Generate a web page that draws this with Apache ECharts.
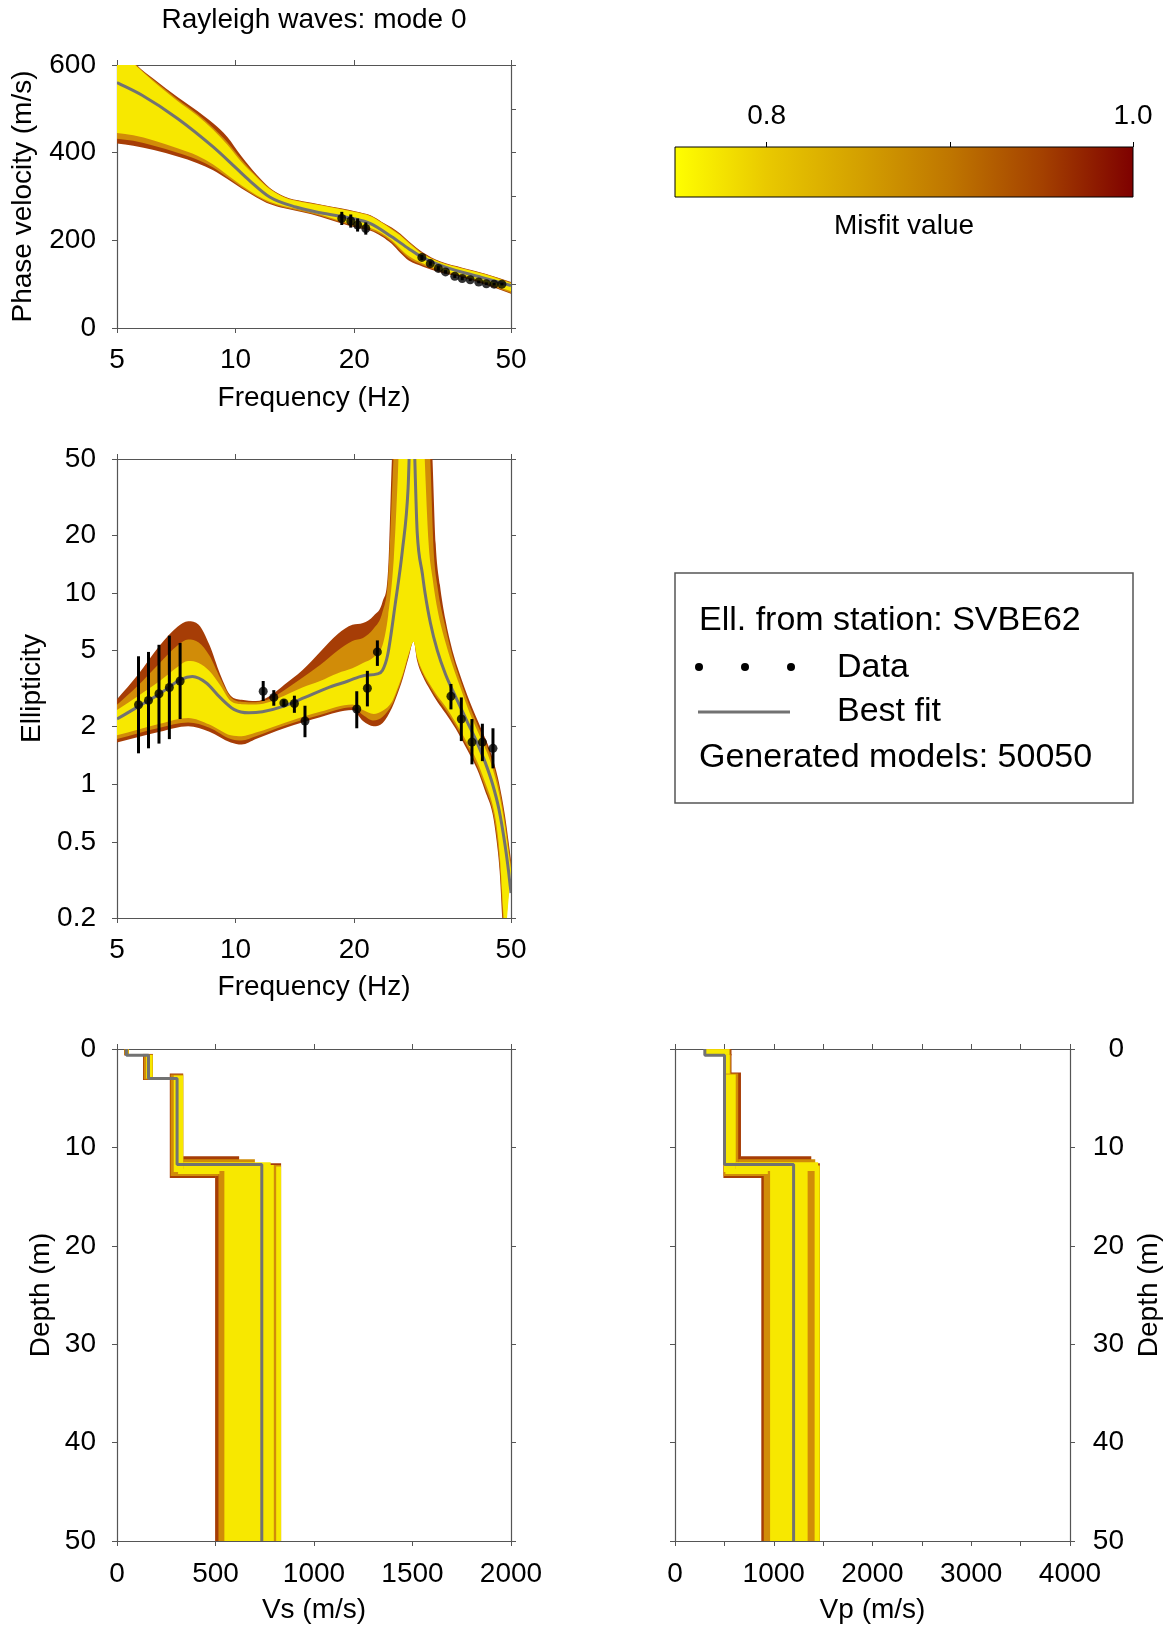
<!DOCTYPE html>
<html>
<head>
<meta charset="utf-8">
<title>Rayleigh waves: mode 0</title>
<script src="https://cdn.jsdelivr.net/npm/echarts@6/dist/echarts.min.js"></script>
<style>
  html, body { margin: 0; padding: 0; background: #ffffff; }
  #chart { width: 1169px; height: 1629px; }
</style>
</head>
<body>
<div id="chart"></div>
<script>
// ---------- styling ----------
const FONT = "'Liberation Sans', Arial, Helvetica, sans-serif";
const FRAME = '#555555';
const BEST_FIT_COLOR = '#727272';
const TEXT = '#000000';

// ---------- misfit colour scale ----------
const misfitRange = [0.75, 1.0];
const misfitTicks = [0.8, 0.9, 1.0];
const misfitLabels = [0.8, 1.0];
const misfitStops = [[0, '#ffff00'], [0.2, '#e9c900'], [0.4, '#d4a100'], [0.6, '#bf7600'], [0.8, '#a44100'], [1, '#7e0000']];
// colours of the misfit classes drawn as envelopes, worst first
const classColors = ['#a63d06', '#d18c08', '#f7e800'];

// ---------- phase-velocity dispersion ----------
const freqTicks = [5, 10, 20, 50];
const dispFreq = [5, 5.5, 6.2, 7.12, 8, 8.77, 9.53, 10.36, 11.3, 12.2, 13.3, 14.8, 16.4, 18.5, 20.2, 22, 23.5, 24.9, 26.2, 27.5, 29.9, 33, 37.8, 43, 50];
const dispOuterUpper = [660, 608, 568, 527, 495, 467, 436, 391, 350, 320, 300, 289, 282, 273, 266, 257, 242, 229, 215, 198, 172, 152, 137, 124, 105];
const dispMidUpper   = [648, 606, 565, 522, 488, 457, 424, 384, 347, 319, 299, 288, 281, 272, 265, 256, 241, 227, 213, 196, 170, 151, 136, 123, 104];
const dispInnerUpper = [640, 604, 562, 518, 484, 452, 418, 378, 344, 317, 298, 287, 280, 271, 264, 255, 240, 225, 211, 194, 168, 150, 135, 122, 102];
const dispOuterLower = [421, 416, 406, 391, 376, 360, 340, 318, 298, 283, 273, 264, 254, 239, 229, 222, 209, 192, 171, 154, 140, 127, 115, 99, 78];
const dispMidLower   = [432, 427, 416, 400, 384, 366, 344, 321, 300, 285, 275, 266, 256, 241, 231, 224, 212, 196, 176, 159, 143, 129, 117, 101, 80];
const dispInnerLower = [445, 440, 428, 410, 393, 373, 349, 325, 303, 288, 278, 269, 259, 244, 235, 228, 216, 200, 181, 164, 147, 133, 120, 104, 84];
const dispBest = [[5, 560], [5.79, 531], [7.12, 478], [8.77, 413], [10.05, 364], [10.83, 337], [12.2, 299], [14.2, 276], [16.4, 263], [19.8, 250], [22, 238], [24.9, 208], [27.5, 181], [29.7, 162], [34.1, 139], [41.9, 116], [50, 97]];
const dispDataFreq = [18.6, 19.6, 20.4, 21.4, 29.7, 31.2, 32.7, 34.1, 36.0, 37.6, 39.4, 41.4, 43.3, 45.3, 47.4];
const dispDataVel  = [250, 244, 235, 227, 161, 147, 136, 128, 118, 113, 110, 105, 101, 100, 100];
const dispDataLow  = [235, 229, 220, 213, 155, 142, 131, 124, 114, 109, 107, 102, 98, 97, 97];
const dispDataHigh = [265, 259, 250, 241, 167, 152, 141, 132, 122, 117, 113, 108, 104, 103, 103];

// ---------- ellipticity ----------
const ellTicks = [0.2, 0.5, 1, 2, 5, 10, 20, 50];
const ellOuterUpper = [[5, 2.78], [5.67, 3.77], [6.42, 5.31], [7.12, 6.65], [7.58, 7.11], [8.06, 6.8], [8.58, 5.35], [9.13, 3.77], [9.72, 2.9], [10.36, 2.76], [11.26, 2.72], [12.25, 2.9], [13.29, 3.31], [14.77, 3.94], [16.38, 4.91], [18.17, 6.1], [19.79, 6.8], [21.05, 6.95], [22.41, 7.59], [23.62, 9.03], [24.39, 13.4], [24.93, 50], [25.3, 90], [31.2, 90], [31.6, 50], [32.2, 18], [33.0, 11], [34.1, 7.2], [35.5, 5.0], [37.0, 3.8], [39.3, 2.7], [42.0, 1.95], [44.5, 1.45], [46.6, 1.02], [48.3, 0.68], [49.3, 0.5], [50, 0.4]];
const ellMidUpper = [[5, 2.6], [5.67, 3.3], [6.42, 4.3], [7.12, 5.3], [7.58, 5.7], [8.06, 5.5], [8.58, 4.7], [9.13, 3.6], [9.72, 2.85], [10.36, 2.7], [11.26, 2.68], [12.25, 2.8], [13.29, 3.1], [14.77, 3.6], [16.38, 4.2], [18.17, 5.0], [19.79, 5.6], [21.05, 5.8], [22.41, 6.5], [23.62, 8.0], [24.39, 12], [25.1, 45], [25.5, 90], [30.8, 90], [31.2, 50], [31.8, 17], [32.6, 10.5], [34.1, 6.6], [35.5, 4.7], [37.0, 3.6], [39.3, 2.55], [42.0, 1.85], [44.5, 1.38], [46.6, 0.97], [48.3, 0.64], [49.3, 0.47], [50, 0.38]];
const ellInnerUpper = [[5, 2.44], [5.67, 2.9], [6.42, 3.46], [7.12, 4.1], [7.58, 4.4], [8.06, 4.3], [8.58, 3.9], [9.13, 3.3], [9.72, 2.72], [10.36, 2.62], [11.26, 2.61], [12.25, 2.7], [13.29, 2.9], [14.77, 3.2], [16.38, 3.46], [18.17, 3.8], [19.79, 4.03], [21.05, 4.3], [22.41, 4.6], [23.62, 5.35], [24.39, 7.6], [25.2, 15], [25.8, 40], [26.2, 90], [29.9, 90], [30.2, 50], [30.9, 18], [31.6, 12], [32.6, 8.0], [34.1, 5.5], [35.5, 4.2], [37.0, 3.3], [39.3, 2.35], [42.0, 1.72], [44.5, 1.28], [46.6, 0.9], [48.3, 0.6], [49.3, 0.44], [50, 0.36]];
const ellOuterLower = [[5, 1.65], [6.42, 1.88], [7.58, 2.01], [8.58, 1.88], [9.72, 1.65], [10.36, 1.61], [11.26, 1.72], [13.29, 1.96], [16.38, 2.24], [19.79, 2.44], [21.05, 2.14], [22.41, 2.01], [23.62, 2.09], [24.93, 2.5], [25.5, 2.8], [26.6, 3.6], [27.5, 4.6], [28.3, 5.6], [28.9, 4.4], [29.8, 3.7], [31.2, 3.1], [32.5, 2.7], [34.1, 2.35], [36.2, 1.95], [38.8, 1.5], [41.0, 1.2], [43.0, 0.92], [44.9, 0.7], [46.0, 0.5], [46.8, 0.35], [47.5, 0.2], [47.9, 0.15]];
const ellMidLower = [[5, 1.72], [6.42, 1.97], [7.58, 2.1], [8.58, 1.97], [9.72, 1.72], [10.36, 1.69], [11.26, 1.78], [13.29, 2.02], [16.38, 2.3], [19.79, 2.52], [21.05, 2.3], [22.41, 2.15], [23.62, 2.25], [24.93, 2.6], [25.5, 2.9], [26.6, 3.7], [27.5, 4.7], [28.3, 5.6], [28.9, 4.5], [29.8, 3.8], [31.2, 3.2], [32.5, 2.8], [34.1, 2.45], [36.2, 2.02], [38.8, 1.56], [41.0, 1.25], [43.0, 0.96], [44.9, 0.73], [46.0, 0.54], [46.8, 0.38], [47.7, 0.2], [48.1, 0.15]];
const ellInnerLower = [[5, 1.8], [6.42, 2.07], [7.58, 2.22], [8.58, 2.05], [9.72, 1.8], [10.36, 1.78], [11.26, 1.86], [13.29, 2.09], [16.38, 2.39], [19.79, 2.61], [21.05, 2.44], [22.41, 2.33], [23.62, 2.42], [24.93, 2.7], [25.5, 3.0], [26.6, 3.8], [27.5, 4.8], [28.3, 5.55], [28.9, 4.6], [29.8, 3.9], [31.2, 3.3], [32.5, 2.9], [34.1, 2.55], [36.2, 2.1], [38.8, 1.63], [41.0, 1.32], [43.0, 1.02], [44.9, 0.78], [46.0, 0.6], [46.8, 0.43], [47.9, 0.2], [48.3, 0.15]];
const ellBest = [[5, 2.19], [5.67, 2.55], [6.42, 2.97], [7.27, 3.53], [7.77, 3.65], [8.43, 3.38], [9.13, 2.84], [9.9, 2.46], [10.8, 2.36], [11.7, 2.39], [13.2, 2.55], [15.0, 2.84], [17.0, 3.17], [19.3, 3.46], [21.1, 3.69], [22.9, 3.77], [23.6, 3.94], [24.3, 4.7], [25.4, 8.65], [26.5, 16.6], [27.4, 35], [28.0, 120], [28.9, 20.7], [29.8, 12.5], [30.25, 10], [31.2, 7.0], [32.5, 5.0], [34.1, 3.75], [36.2, 2.85], [38.8, 2.1], [41.0, 1.65], [43.0, 1.3], [44.9, 1.0], [46.6, 0.74], [48.3, 0.48], [49.3, 0.35], [50, 0.27]];
const ellDataFreq = [5.67, 6.01, 6.39, 6.79, 7.23, 11.75, 12.5, 13.26, 14.1, 15.0, 20.3, 21.6, 22.9, 35.2, 37.4, 39.8, 42.3, 45.0];
const ellDataVal  = [2.60, 2.74, 2.97, 3.20, 3.46, 3.06, 2.84, 2.66, 2.64, 2.14, 2.47, 3.17, 4.91, 2.88, 2.19, 1.66, 1.66, 1.54];
const ellDataLow  = [1.45, 1.54, 1.63, 1.72, 2.19, 2.72, 2.57, 2.55, 2.36, 1.76, 1.96, 2.55, 4.15, 2.46, 1.68, 1.27, 1.32, 1.21];
const ellDataHigh = [4.66, 4.91, 5.35, 5.97, 5.47, 3.46, 3.10, 2.77, 2.90, 2.57, 3.06, 3.91, 5.64, 3.34, 2.84, 2.19, 2.07, 1.96];

// ---------- velocity profiles (blocks: [vMin, vMax, depthTop, depthBottom]) ----------
const profileBottom = 50;
const vsOuterBlocks = [[36, 60, 0, 0.65], [132, 182, 0.5, 3.15], [268, 336, 2.5, 13.1], [336, 620, 10.9, 12.0], [290, 500, 12.0, 13.1], [498, 833, 11.6, 50]];
const vsMidBlocks   = [[38, 60, 0, 0.62], [136, 181, 0.55, 3.1], [272, 336, 2.6, 12.9], [336, 700, 11.2, 12.3], [300, 515, 12.1, 12.9], [515, 832, 11.8, 50]];
const vsInnerBlocks = [[40, 58, 0, 0.6], [148, 181, 0.6, 3.0], [288, 336, 2.7, 12.5], [336, 780, 11.5, 12.4], [310, 520, 12.2, 12.7], [545, 796, 11.8, 50], [808, 833, 11.95, 50]];
const vsBestTop = [0, 0.63, 3.0, 11.75];
const vsBestVel = [48, 160, 305, 735];

const vpOuterBlocks = [[300, 572, 0, 0.65], [490, 572, 0.5, 2.6], [490, 668, 2.4, 13.1], [668, 1380, 10.9, 12.0], [500, 900, 12.0, 13.1], [874, 1467, 11.6, 50]];
const vpMidBlocks   = [[305, 560, 0, 0.62], [492, 565, 0.55, 2.6], [492, 640, 2.5, 12.9], [640, 1420, 11.2, 12.3], [505, 920, 12.1, 12.9], [899, 1467, 11.8, 50]];
const vpInnerBlocks = [[310, 550, 0.02, 0.6], [495, 555, 0.6, 2.5], [495, 615, 2.6, 12.5], [615, 1450, 11.5, 12.4], [510, 940, 12.2, 12.7], [963, 1343, 11.8, 50], [1414, 1465, 11.9, 50]];
const vpBestTop = [0, 0.63, 11.75];
const vpBestVel = [302, 501, 1201];

// ---------- helpers ----------
function zip(xs, ys) { return xs.map((x, i) => [x, ys[i]]); }

// step polyline of a layered model: vertical inside layers, horizontal at interfaces
function stepProfile(tops, vels, bottom) {
  const pts = [];
  for (let i = 0; i < vels.length; i++) {
    pts.push([vels[i], tops[i]]);
    pts.push([vels[i], i + 1 < tops.length ? tops[i + 1] : bottom]);
  }
  return pts;
}

// monotone cubic (x-monotone) bezier segments through pixel points
function monotoneSegments(pts) {
  const n = pts.length, segs = [];
  if (n < 2) return segs;
  const dx = [], s = [];
  for (let i = 0; i < n - 1; i++) {
    dx[i] = pts[i + 1][0] - pts[i][0];
    s[i] = dx[i] !== 0 ? (pts[i + 1][1] - pts[i][1]) / dx[i] : 0;
  }
  const m = new Array(n);
  m[0] = s[0]; m[n - 1] = s[n - 2];
  for (let i = 1; i < n - 1; i++) m[i] = s[i - 1] * s[i] <= 0 ? 0 : (s[i - 1] + s[i]) / 2;
  for (let i = 0; i < n - 1; i++) {
    if (s[i] === 0) { m[i] = 0; m[i + 1] = 0; continue; }
    const a = m[i] / s[i], b = m[i + 1] / s[i], q = a * a + b * b;
    if (q > 9) { const t = 3 / Math.sqrt(q); m[i] = t * a * s[i]; m[i + 1] = t * b * s[i]; }
  }
  for (let i = 0; i < n - 1; i++) {
    const h = dx[i] / 3;
    segs.push([pts[i], [pts[i][0] + h, pts[i][1] + m[i] * h], [pts[i + 1][0] - h, pts[i + 1][1] - m[i + 1] * h], pts[i + 1]]);
  }
  return segs;
}

function segmentsToPath(segs, reverse) {
  let d = '';
  if (!reverse) {
    segs.forEach(g => { d += 'C' + g[1][0] + ',' + g[1][1] + ' ' + g[2][0] + ',' + g[2][1] + ' ' + g[3][0] + ',' + g[3][1]; });
  } else {
    for (let i = segs.length - 1; i >= 0; i--) {
      const g = segs[i];
      d += 'C' + g[2][0] + ',' + g[2][1] + ' ' + g[1][0] + ',' + g[1][1] + ' ' + g[0][0] + ',' + g[0][1];
    }
  }
  return d;
}

// closed path: upper edge left→right, lower edge right→left
function envelopePath(up, lo) {
  const last = lo[lo.length - 1];
  return 'M' + up[0][0] + ',' + up[0][1] + segmentsToPath(monotoneSegments(up), false) +
    'L' + last[0] + ',' + last[1] + segmentsToPath(monotoneSegments(lo), true) + 'Z';
}

function clipRect(params) {
  const cs = params.coordSys;
  return { type: 'rect', shape: { x: cs.x, y: cs.y, width: cs.width, height: cs.height } };
}

function envelopeSeries(xi, yi, anchor, bands) {
  return {
    type: 'custom', xAxisIndex: xi, yAxisIndex: yi, clip: true, silent: true,
    data: bands.map((b, i) => [anchor[0], anchor[1], i]),
    encode: { x: 0, y: 1 },
    renderItem(params, api) {
      const band = bands[api.value(2)];
      const up = band.upper.map(p => api.coord(p));
      const lo = band.lower.map(p => api.coord(p));
      return {
        type: 'path',
        shape: { pathData: envelopePath(up, lo) },
        style: { fill: band.color },
        clipPath: clipRect(params)
      };
    }
  };
}

// smooth best-fit curve through its sample points
function curveSeries(xi, yi, anchor, pts) {
  return {
    type: 'custom', xAxisIndex: xi, yAxisIndex: yi, clip: true, silent: true,
    data: [anchor], encode: { x: 0, y: 1 },
    renderItem(params, api) {
      const px = pts.map(p => api.coord(p));
      return {
        type: 'path',
        shape: { pathData: 'M' + px[0][0] + ',' + px[0][1] + segmentsToPath(monotoneSegments(px), false) },
        style: { fill: null, stroke: BEST_FIT_COLOR, lineWidth: 3 },
        clipPath: clipRect(params)
      };
    }
  };
}

function blockSeries(xi, yi, blocks, color) {
  return {
    type: 'custom', xAxisIndex: xi, yAxisIndex: yi, clip: true, silent: true,
    data: blocks,
    encode: { x: [0, 1], y: [2, 3] },
    renderItem(params, api) {
      const a = api.coord([api.value(0), api.value(2)]);
      const b = api.coord([api.value(1), api.value(3)]);
      return {
        type: 'rect',
        shape: { x: Math.min(a[0], b[0]), y: Math.min(a[1], b[1]), width: Math.abs(b[0] - a[0]), height: Math.abs(b[1] - a[1]) },
        style: { fill: color },
        clipPath: clipRect(params)
      };
    }
  };
}

function errorBarSeries(xi, yi, freq, low, high) {
  return {
    type: 'custom', xAxisIndex: xi, yAxisIndex: yi, silent: true,
    data: freq.map((f, i) => [f, low[i], high[i]]),
    encode: { x: 0, y: [1, 2] },
    renderItem(params, api) {
      const a = api.coord([api.value(0), api.value(1)]);
      const b = api.coord([api.value(0), api.value(2)]);
      return { type: 'line', shape: { x1: a[0], y1: a[1], x2: b[0], y2: b[1] }, style: { stroke: '#000', lineWidth: 3 } };
    }
  };
}

function stepLine(xi, yi, data) {
  return {
    type: 'line', xAxisIndex: xi, yAxisIndex: yi, data: data, showSymbol: false, symbol: 'none',
    clip: true, silent: true, lineStyle: { color: BEST_FIT_COLOR, width: 3 }
  };
}

function dataDots(xi, yi, freq, vals) {
  return {
    type: 'scatter', xAxisIndex: xi, yAxisIndex: yi, data: zip(freq, vals),
    symbol: 'circle', symbolSize: 9, itemStyle: { color: '#000' }, silent: true
  };
}

// ---------- assembled envelopes ----------
const dispBands = [
  { color: classColors[0], upper: zip(dispFreq, dispOuterUpper), lower: zip(dispFreq, dispOuterLower) },
  { color: classColors[1], upper: zip(dispFreq, dispMidUpper),   lower: zip(dispFreq, dispMidLower) },
  { color: classColors[2], upper: zip(dispFreq, dispInnerUpper), lower: zip(dispFreq, dispInnerLower) }
];
const ellBands = [
  { color: classColors[0], upper: ellOuterUpper, lower: ellOuterLower },
  { color: classColors[1], upper: ellMidUpper,   lower: ellMidLower },
  { color: classColors[2], upper: ellInnerUpper, lower: ellInnerLower }
];

// ---------- axes ----------
const axisLine = { show: true, onZero: false, lineStyle: { color: FRAME, width: 1.2 } };
const tickStyle = { show: true, inside: false, length: 5, lineStyle: { color: FRAME, width: 1 } };
function ticks(extra) { return Object.assign({}, tickStyle, extra || {}); }
function labels(extra) {
  return Object.assign({ fontFamily: FONT, fontSize: 28, color: TEXT, showMinLabel: true, showMaxLabel: true,
    formatter: v => String(v) }, extra || {});
}
const nameStyle = { fontFamily: FONT, fontSize: 28, color: TEXT };
const off = { show: false };

function nameOpts(name, gap) {
  return { name: name, nameLocation: 'middle', nameGap: gap, nameTextStyle: nameStyle, nameMoveOverlap: false };
}

const xAxes = [
  // 0/1 dispersion
  Object.assign({ gridIndex: 0, type: 'log', logBase: 10, min: 5, max: 50, position: 'bottom', axisLine: axisLine,
    axisTick: ticks({ customValues: freqTicks }), axisLabel: labels({ customValues: freqTicks, margin: 18 }), splitLine: off },
    nameOpts('Frequency (Hz)', 56)),
  { gridIndex: 0, type: 'log', logBase: 10, min: 5, max: 50, position: 'top', axisLine: axisLine,
    axisTick: ticks({ customValues: freqTicks }), axisLabel: off, splitLine: off },
  // 2/3 ellipticity
  Object.assign({ gridIndex: 1, type: 'log', logBase: 10, min: 5, max: 50, position: 'bottom', axisLine: axisLine,
    axisTick: ticks({ customValues: freqTicks }), axisLabel: labels({ customValues: freqTicks, margin: 18 }), splitLine: off },
    nameOpts('Frequency (Hz)', 55)),
  { gridIndex: 1, type: 'log', logBase: 10, min: 5, max: 50, position: 'top', axisLine: axisLine,
    axisTick: ticks({ customValues: freqTicks }), axisLabel: off, splitLine: off },
  // 4/5 Vs
  Object.assign({ gridIndex: 2, type: 'value', min: 0, max: 2000, interval: 500, position: 'bottom', axisLine: axisLine,
    axisTick: ticks(), axisLabel: labels({ margin: 19 }), splitLine: off }, nameOpts('Vs (m/s)', 55)),
  { gridIndex: 2, type: 'value', min: 0, max: 2000, interval: 500, position: 'top', axisLine: axisLine,
    axisTick: ticks(), axisLabel: off, splitLine: off },
  // 6/7 Vp
  Object.assign({ gridIndex: 3, type: 'value', min: 0, max: 4000, interval: 500, position: 'bottom', axisLine: axisLine,
    axisTick: ticks(), axisLabel: labels({ margin: 19, formatter: v => (v % 1000 === 0 ? String(v) : '') }), splitLine: off },
    nameOpts('Vp (m/s)', 55)),
  { gridIndex: 3, type: 'value', min: 0, max: 4000, interval: 500, position: 'top', axisLine: axisLine,
    axisTick: ticks(), axisLabel: off, splitLine: off },
  // 8/9 colour bar
  { gridIndex: 4, type: 'value', min: misfitRange[0], max: misfitRange[1], position: 'top',
    axisLine: { show: false, onZero: false }, axisTick: ticks({ customValues: misfitTicks, lineStyle: { color: '#000', width: 1 } }),
    axisLabel: labels({ customValues: misfitLabels, margin: 17, formatter: v => Number(v).toFixed(1) }), splitLine: off },
  Object.assign({ gridIndex: 4, type: 'value', min: misfitRange[0], max: misfitRange[1], position: 'bottom',
    axisLine: { show: false, onZero: false }, axisTick: off, axisLabel: off, splitLine: off }, nameOpts('Misfit value', 15))
];

const yAxes = [
  // 0/1 dispersion
  Object.assign({ gridIndex: 0, type: 'value', min: 0, max: 600, interval: 200, position: 'left', axisLine: axisLine,
    axisTick: ticks(), axisLabel: labels({ margin: 21 }), splitLine: off }, nameOpts('Phase velocity (m/s)', 80)),
  { gridIndex: 0, type: 'value', min: 0, max: 600, interval: 100, position: 'right', axisLine: axisLine,
    axisTick: ticks(), axisLabel: off, splitLine: off },
  // 2/3 ellipticity
  Object.assign({ gridIndex: 1, type: 'log', logBase: 10, min: 0.2, max: 50, position: 'left', axisLine: axisLine,
    axisTick: ticks({ customValues: ellTicks }), axisLabel: labels({ customValues: ellTicks, margin: 21 }), splitLine: off },
    nameOpts('Ellipticity', 71)),
  { gridIndex: 1, type: 'log', logBase: 10, min: 0.2, max: 50, position: 'right', axisLine: axisLine,
    axisTick: ticks({ customValues: ellTicks }), axisLabel: off, splitLine: off },
  // 4/5 Vs depth
  Object.assign({ gridIndex: 2, type: 'value', inverse: true, min: 0, max: profileBottom, interval: 10, position: 'left', axisLine: axisLine,
    axisTick: ticks(), axisLabel: labels({ margin: 21 }), splitLine: off }, nameOpts('Depth (m)', 62)),
  { gridIndex: 2, type: 'value', inverse: true, min: 0, max: profileBottom, interval: 10, position: 'right', axisLine: axisLine,
    axisTick: ticks(), axisLabel: off, splitLine: off },
  // 6/7 Vp depth
  { gridIndex: 3, type: 'value', inverse: true, min: 0, max: profileBottom, interval: 10, position: 'left', axisLine: axisLine,
    axisTick: ticks(), axisLabel: off, splitLine: off },
  Object.assign({ gridIndex: 3, type: 'value', inverse: true, min: 0, max: profileBottom, interval: 10, position: 'right', axisLine: axisLine,
    axisTick: ticks(), axisLabel: labels({ margin: 54, align: 'right' }), splitLine: off }, nameOpts('Depth (m)', 65)),
  // 8 colour bar
  { gridIndex: 4, type: 'value', min: 0, max: 1, show: false }
];

const grids = [
  { left: 117, top: 65, width: 394, height: 263 },
  { left: 117, top: 459, width: 394, height: 459 },
  { left: 117, top: 1049, width: 394, height: 492 },
  { left: 675, top: 1049, width: 395, height: 492 },
  { left: 675, top: 147, width: 458, height: 50 }
].map(g => Object.assign({ containLabel: false, outerBoundsMode: 'none', show: false }, g));

// ---------- series ----------
const series = [
  envelopeSeries(0, 0, [10, 300], dispBands),
  curveSeries(0, 0, [10, 300], dispBest),
  errorBarSeries(0, 0, dispDataFreq, dispDataLow, dispDataHigh),
  dataDots(0, 0, dispDataFreq, dispDataVel),

  envelopeSeries(2, 2, [10, 1], ellBands),
  curveSeries(2, 2, [10, 1], ellBest),
  errorBarSeries(2, 2, ellDataFreq, ellDataLow, ellDataHigh),
  dataDots(2, 2, ellDataFreq, ellDataVal),

  blockSeries(4, 4, vsOuterBlocks, classColors[0]),
  blockSeries(4, 4, vsMidBlocks, classColors[1]),
  blockSeries(4, 4, vsInnerBlocks, classColors[2]),
  stepLine(4, 4, stepProfile(vsBestTop, vsBestVel, profileBottom)),

  blockSeries(6, 7, vpOuterBlocks, classColors[0]),
  blockSeries(6, 7, vpMidBlocks, classColors[1]),
  blockSeries(6, 7, vpInnerBlocks, classColors[2]),
  stepLine(6, 7, stepProfile(vpBestTop, vpBestVel, profileBottom)),

  // colour bar of the misfit scale
  {
    type: 'custom', xAxisIndex: 8, yAxisIndex: 8, silent: true,
    data: [[misfitRange[0], 0, misfitRange[1], 1]],
    encode: { x: [0, 2], y: [1, 3] },
    renderItem(params, api) {
      const a = api.coord([api.value(0), api.value(3)]);
      const b = api.coord([api.value(2), api.value(1)]);
      return {
        type: 'rect',
        shape: { x: a[0], y: a[1], width: b[0] - a[0], height: b[1] - a[1] },
        style: {
          fill: { type: 'linear', x: 0, y: 0, x2: 1, y2: 0, colorStops: misfitStops.map(s => ({ offset: s[0], color: s[1] })) },
          stroke: '#000', lineWidth: 1
        }
      };
    }
  }
];

// ---------- text and legend box ----------
function label(text, x, y, size, align) {
  return { type: 'text', x: x, y: y, silent: true,
    style: { text: text, fontFamily: FONT, fontSize: size, fill: TEXT, align: align || 'left', verticalAlign: 'middle' } };
}
const graphics = [
  label('Rayleigh waves: mode 0', 314, 20, 28, 'center'),
  { type: 'rect', shape: { x: 675, y: 573, width: 458, height: 230 }, style: { fill: 'none', stroke: FRAME, lineWidth: 1.5 }, silent: true },
  label('Ell. from station: SVBE62', 699, 621, 34),
  { type: 'circle', shape: { cx: 699, cy: 667, r: 4 }, style: { fill: '#000' }, silent: true },
  { type: 'circle', shape: { cx: 745, cy: 667, r: 4 }, style: { fill: '#000' }, silent: true },
  { type: 'circle', shape: { cx: 791, cy: 667, r: 4 }, style: { fill: '#000' }, silent: true },
  label('Data', 837, 668, 34),
  { type: 'line', shape: { x1: 698, y1: 712, x2: 790, y2: 712 }, style: { stroke: BEST_FIT_COLOR, lineWidth: 3 }, silent: true },
  label('Best fit', 837, 712, 34),
  label('Generated models: 50050', 699, 758, 34)
];

const chart = echarts.init(document.getElementById('chart'), null, { renderer: 'canvas' });
chart.setOption({
  animation: false,
  backgroundColor: '#ffffff',
  textStyle: { fontFamily: FONT },
  grid: grids,
  xAxis: xAxes,
  yAxis: yAxes,
  series: series,
  graphic: graphics
});
</script>
</body>
</html>
